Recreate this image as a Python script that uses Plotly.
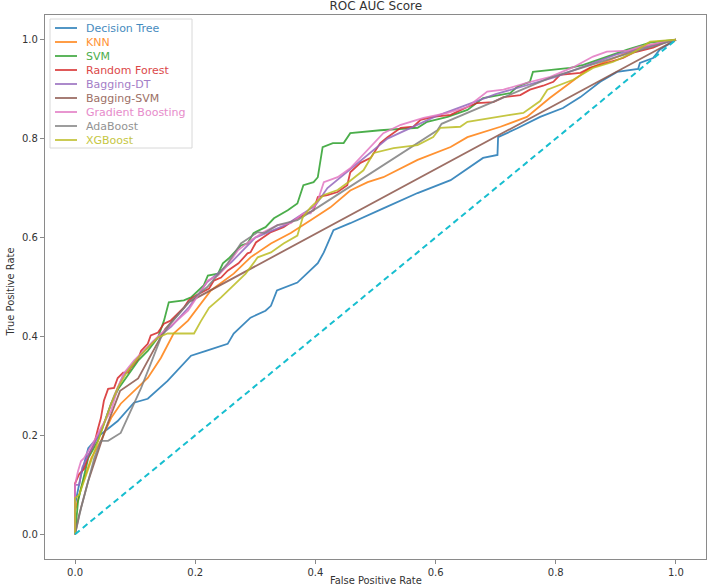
import plotly.graph_objects as go

# ---------------- data ----------------
names = ["Decision Tree", "KNN", "SVM", "Random Forest", "Bagging-DT",
         "Bagging-SVM", "Gradient Boosting", "AdaBoost", "XGBoost"]
colors = ["#1f77b4", "#ff7f0e", "#2ca02c", "#d62728", "#9467bd",
          "#8c564b", "#e377c2", "#7f7f7f", "#bcbd22"]
diag_color = "#17becf"

dt_fpr = [0, 0.0, 0.01, 0.022, 0.04, 0.071, 0.098, 0.121, 0.154, 0.193, 0.218, 0.254, 0.264,
          0.292, 0.317, 0.326, 0.336, 0.370, 0.404, 0.414, 0.430, 0.458, 0.513, 0.570, 0.625,
          0.679, 0.703, 0.704, 0.736, 0.774, 0.812, 0.841, 0.874, 0.902, 0.937, 0.940, 0.962,
          0.973, 1.0]
dt_tpr = [0, 0.06, 0.12, 0.174, 0.199, 0.229, 0.266, 0.274, 0.310, 0.361, 0.371, 0.385, 0.406,
          0.438, 0.452, 0.462, 0.493, 0.509, 0.548, 0.570, 0.615, 0.629, 0.659, 0.690, 0.716,
          0.761, 0.767, 0.803, 0.821, 0.844, 0.862, 0.884, 0.915, 0.935, 0.941, 0.953, 0.963,
          0.980, 1.0]

knn_fpr = [0, 0.0, 0.01, 0.027, 0.043, 0.06, 0.076, 0.098, 0.121, 0.143, 0.164, 0.188, 0.209,
           0.226, 0.264, 0.292, 0.326, 0.359, 0.392, 0.425, 0.458, 0.487, 0.513, 0.570, 0.625,
           0.653, 0.708, 0.752, 0.79, 0.857, 0.94, 1.0]
knn_tpr = [0, 0.047, 0.093, 0.154, 0.189, 0.235, 0.264, 0.29, 0.316, 0.357, 0.406, 0.432, 0.465,
           0.493, 0.527, 0.560, 0.588, 0.609, 0.635, 0.661, 0.695, 0.712, 0.722, 0.757, 0.783,
           0.803, 0.824, 0.844, 0.882, 0.943, 0.984, 1.0]

svm_fpr = [0, 0.005, 0.010, 0.022, 0.038, 0.048, 0.060, 0.073, 0.090, 0.105, 0.121, 0.138, 0.148,
           0.156, 0.181, 0.193, 0.214, 0.221, 0.238, 0.246, 0.256, 0.276, 0.287, 0.297, 0.317,
           0.331, 0.354, 0.370, 0.380, 0.397, 0.404, 0.412, 0.429, 0.447, 0.458, 0.508, 0.570,
           0.586, 0.620, 0.653, 0.679, 0.724, 0.736, 0.757, 0.762, 0.791, 0.824, 0.846, 0.885,
           0.919, 0.957, 1.0]
svm_tpr = [0, 0.067, 0.093, 0.154, 0.189, 0.223, 0.264, 0.296, 0.325, 0.351, 0.371, 0.398, 0.432,
           0.469, 0.473, 0.479, 0.503, 0.523, 0.527, 0.548, 0.558, 0.584, 0.588, 0.609, 0.621,
           0.639, 0.655, 0.669, 0.706, 0.712, 0.722, 0.783, 0.791, 0.791, 0.811, 0.817, 0.822,
           0.834, 0.844, 0.858, 0.882, 0.892, 0.905, 0.915, 0.935, 0.939, 0.943, 0.949, 0.966,
           0.980, 0.994, 1.0]

rf_fpr = [0, 0.0, 0.007, 0.015, 0.022, 0.032, 0.038, 0.043, 0.048, 0.055, 0.065, 0.071, 0.080,
          0.088, 0.093, 0.105, 0.110, 0.121, 0.126, 0.138, 0.148, 0.159, 0.181, 0.189, 0.201,
          0.223, 0.231, 0.243, 0.254, 0.272, 0.287, 0.292, 0.301, 0.314, 0.326, 0.347, 0.364,
          0.380, 0.397, 0.404, 0.420, 0.437, 0.453, 0.458, 0.475, 0.492, 0.508, 0.520, 0.542,
          0.563, 0.575, 0.596, 0.625, 0.653, 0.669, 0.696, 0.713, 0.741, 0.757, 0.779, 0.796,
          0.807, 0.841, 0.857, 0.912, 0.929, 0.962, 0.985, 1.0]
rf_tpr = [0, 0.103, 0.122, 0.132, 0.158, 0.183, 0.213, 0.235, 0.270, 0.294, 0.296, 0.316, 0.327,
          0.327, 0.337, 0.355, 0.371, 0.385, 0.402, 0.408, 0.426, 0.432, 0.458, 0.473, 0.483,
          0.497, 0.513, 0.519, 0.533, 0.548, 0.568, 0.570, 0.590, 0.600, 0.611, 0.621, 0.635,
          0.645, 0.655, 0.682, 0.686, 0.692, 0.706, 0.732, 0.751, 0.761, 0.791, 0.803, 0.822,
          0.824, 0.838, 0.844, 0.848, 0.864, 0.872, 0.874, 0.884, 0.888, 0.899, 0.907, 0.915,
          0.929, 0.933, 0.943, 0.963, 0.974, 0.984, 0.996, 1.0]

bdt_fpr = [0, 0.0, 0.007, 0.012, 0.022, 0.035, 0.05, 0.065, 0.08, 0.10, 0.13, 0.16, 0.19, 0.22,
           0.26, 0.30, 0.35, 0.40, 0.42, 0.46, 0.52, 0.60, 0.70, 0.80, 0.90, 1.0]
bdt_tpr = [0, 0.10, 0.10, 0.135, 0.16, 0.19, 0.23, 0.28, 0.32, 0.35, 0.39, 0.42, 0.46, 0.51,
           0.55, 0.60, 0.625, 0.665, 0.70, 0.74, 0.80, 0.845, 0.89, 0.925, 0.97, 1.0]

bsvm_fpr = [0, 0.007, 0.022, 0.05, 0.075, 0.105, 0.15, 0.19, 1.0]
bsvm_tpr = [0, 0.04, 0.108, 0.21, 0.29, 0.315, 0.415, 0.47, 1.0]

gb_fpr = [0, 0.0, 0.005, 0.010, 0.015, 0.022, 0.032, 0.043, 0.060, 0.071, 0.081, 0.098, 0.110,
          0.126, 0.143, 0.164, 0.188, 0.221, 0.238, 0.251, 0.271, 0.292, 0.314, 0.337, 0.359,
          0.380, 0.392, 0.404, 0.414, 0.437, 0.458, 0.487, 0.513, 0.542, 0.580, 0.620, 0.653,
          0.686, 0.713, 0.752, 0.791, 0.830, 0.862, 0.885, 0.920, 0.940, 1.0]
gb_tpr = [0, 0.10, 0.128, 0.148, 0.154, 0.168, 0.189, 0.215, 0.250, 0.296, 0.325, 0.351, 0.365,
          0.385, 0.406, 0.426, 0.452, 0.513, 0.523, 0.540, 0.574, 0.594, 0.611, 0.625, 0.629,
          0.649, 0.649, 0.675, 0.712, 0.722, 0.740, 0.777, 0.811, 0.828, 0.842, 0.852, 0.864,
          0.895, 0.899, 0.913, 0.925, 0.945, 0.966, 0.976, 0.978, 0.986, 1.0]

ada_fpr = [0, 0.010, 0.022, 0.032, 0.043, 0.055, 0.076, 0.093, 0.110, 0.126, 0.143, 0.159, 0.19,
           0.22, 0.254, 0.276, 0.304, 0.315, 0.337, 0.370, 0.404, 0.603, 0.61, 0.79, 0.90, 1.0]
ada_tpr = [0, 0.053, 0.108, 0.154, 0.189, 0.189, 0.205, 0.250, 0.296, 0.345, 0.398, 0.426, 0.47,
           0.50, 0.548, 0.588, 0.611, 0.609, 0.625, 0.635, 0.661, 0.817, 0.83, 0.923, 0.965, 1.0]

xgb_fpr = [0, 0.0, 0.007, 0.015, 0.027, 0.038, 0.048, 0.060, 0.071, 0.088, 0.105, 0.121, 0.138,
           0.154, 0.198, 0.209, 0.223, 0.243, 0.264, 0.284, 0.304, 0.326, 0.347, 0.370, 0.379,
           0.392, 0.414, 0.437, 0.458, 0.480, 0.497, 0.530, 0.570, 0.596, 0.608, 0.641, 0.653,
           0.691, 0.724, 0.746, 0.774, 0.786, 0.829, 0.862, 0.895, 0.929, 0.957, 1.0]
xgb_tpr = [0, 0.073, 0.080, 0.108, 0.148, 0.189, 0.223, 0.264, 0.296, 0.331, 0.357, 0.377, 0.398,
           0.406, 0.406, 0.430, 0.458, 0.479, 0.503, 0.527, 0.560, 0.570, 0.588, 0.604, 0.641,
           0.661, 0.686, 0.696, 0.715, 0.736, 0.771, 0.781, 0.787, 0.803, 0.822, 0.824, 0.834,
           0.842, 0.848, 0.852, 0.876, 0.899, 0.919, 0.943, 0.955, 0.974, 0.996, 1.0]

diag_x = [0, 1]
diag_y = [0, 1]

fprs = [dt_fpr, knn_fpr, svm_fpr, rf_fpr, bdt_fpr, bsvm_fpr, gb_fpr, ada_fpr, xgb_fpr]
tprs = [dt_tpr, knn_tpr, svm_tpr, rf_tpr, bdt_tpr, bsvm_tpr, gb_tpr, ada_tpr, xgb_tpr]

tick_vals = [0.0, 0.2, 0.4, 0.6, 0.8, 1.0]
tick_text = ["0.0", "0.2", "0.4", "0.6", "0.8", "1.0"]

# ---------------- figure ----------------
fig = go.Figure()
for name, col, fx, ty in zip(names, colors, fprs, tprs):
    fig.add_trace(go.Scatter(x=fx, y=ty, mode="lines", name=name,
                             line=dict(color=col, width=1.8), opacity=0.85,
                             showlegend=False))
fig.add_trace(go.Scatter(x=diag_x, y=diag_y, mode="lines", showlegend=False,
                         line=dict(color=diag_color, width=2, dash="6px,4px")))

axis_common = dict(range=[-0.05, 1.05], tickvals=tick_vals, ticktext=tick_text,
                   showgrid=False, zeroline=False, showline=True, mirror=True,
                   linecolor="#8a8a8a", linewidth=1.4, ticks="outside", ticklen=4,
                   tickcolor="#8a8a8a", tickfont=dict(size=10, color="#333"))

fig.update_layout(
    width=709, height=588,
    margin=dict(l=45, r=3, t=15, b=29),
    paper_bgcolor="white", plot_bgcolor="white",
    font=dict(family="DejaVu Sans", size=10, color="#333"),
    title=dict(text="ROC AUC Score", x=0.53, xanchor="center", y=0.99, yanchor="middle",
               font=dict(size=12, color="#333")),
    xaxis=axis_common, yaxis=axis_common,
)

# custom legend (matplotlib-like compact box)
shapes = [dict(type="rect", xref="paper", yref="paper", xsizemode="pixel", ysizemode="pixel",
               xanchor=0, yanchor=1, x0=5, x1=147, y0=-4, y1=-133,
               line=dict(color="#d8d8d8", width=1), fillcolor="rgba(255,255,255,0.85)",
               layer="above")]
annotations = []
for i, (name, col) in enumerate(zip(names, colors)):
    yy = -(13 + 14 * i)
    shapes.append(dict(type="line", xref="paper", yref="paper", xsizemode="pixel",
                       ysizemode="pixel", xanchor=0, yanchor=1, x0=10, x1=32, y0=yy, y1=yy,
                       line=dict(color=col, width=1.8), opacity=0.85, layer="above"))
    annotations.append(dict(text=name, xref="paper", yref="paper", x=0, y=1,
                            xshift=39, yshift=yy, xanchor="left", yanchor="middle",
                            showarrow=False, opacity=0.85,
                            font=dict(size=11, color=col, family="DejaVu Sans")))

annotations.append(dict(text="False Positive Rate", xref="paper", yref="paper", x=0.5, y=0,
                        yshift=-21, xanchor="center", yanchor="middle", showarrow=False,
                        font=dict(size=11, color="#333", family="DejaVu Sans Condensed, Liberation Sans Narrow, DejaVu Sans")))
annotations.append(dict(text="True Positive Rate", xref="paper", yref="paper", x=0, y=0.49,
                        xshift=-35, xanchor="center", yanchor="middle", textangle=-90,
                        showarrow=False,
                        font=dict(size=11, color="#333", family="DejaVu Sans Condensed, Liberation Sans Narrow, DejaVu Sans")))

fig.update_layout(shapes=shapes, annotations=annotations)
fig.write_html("out.html")
